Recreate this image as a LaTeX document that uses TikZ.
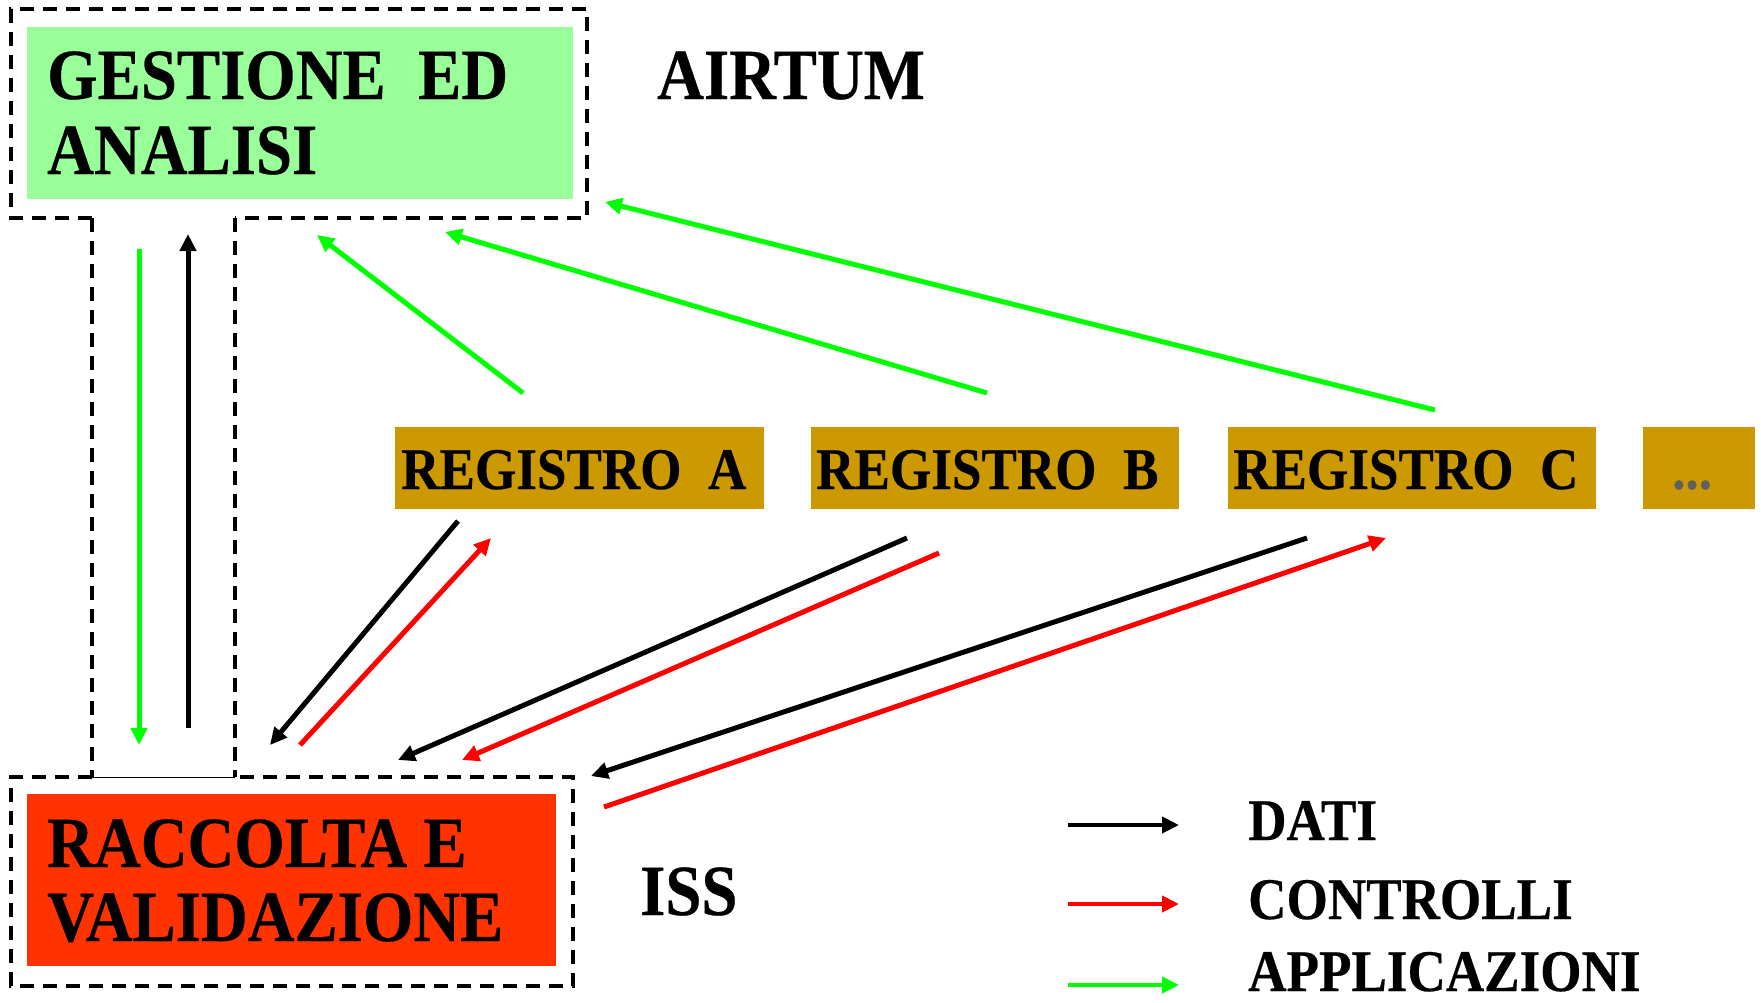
\documentclass[tikz,border=0pt]{standalone}
\usepackage{fontspec}
\setmainfont{Liberation Serif}
\newfontfamily\labfont{Liberation Serif}[FakeStretch=0.9, BoldFeatures={FakeBold=0.4}]
\usetikzlibrary{arrows.meta}
\definecolor{gestgreen}{HTML}{99FF99}
\definecolor{raccred}{HTML}{FF3300}
\definecolor{regocra}{HTML}{CC9900}
\definecolor{appgreen}{HTML}{00FF00}
\definecolor{ctrlred}{HTML}{FF0000}
\definecolor{dotgray}{HTML}{606060}

\begin{document}
\begin{tikzpicture}[x=1pt,y=-1pt,
  frame/.style={line width=4pt, dash pattern=on 14pt off 9pt},
  flow/.style={line width=5pt, -{Triangle[length=17pt,width=16pt]}},
  dati/.style={flow, black},
  ctrl/.style={flow, ctrlred},
  appl/.style={flow, appgreen},
  big/.style={font=\labfont\bfseries\fontsize{72}{72}\selectfont, inner sep=0pt, anchor=base west},
  mid/.style={font=\labfont\bfseries\fontsize{59}{59}\selectfont, inner sep=0pt, anchor=base west},
  block/.style={draw=none, inner sep=0pt, anchor=north west},
]
\useasboundingbox (0,0) rectangle (1761,1002);

% coloured blocks
\node[block, fill=gestgreen, minimum width=546pt, minimum height=172pt] (gest) at (27,27) {};
\node[block, fill=raccred, minimum width=529pt, minimum height=172pt] (racc) at (27,794) {};
\node[block, fill=regocra, minimum width=369pt, minimum height=82pt] (regA) at (395,427) {};
\node[block, fill=regocra, minimum width=368pt, minimum height=82pt] (regB) at (811,427) {};
\node[block, fill=regocra, minimum width=368pt, minimum height=82pt] (regC) at (1228,427) {};
\node[block, fill=regocra, minimum width=112pt, minimum height=82pt] (regD) at (1643,427) {};

% labels
\node[big] (gest1) at (47,99) {GESTIONE\ \ ED};
\node[big] (gest2) at (47,174) {ANALISI};
\node[big] (airtum) at (657,99) {AIRTUM};
\node[big] (racc1) at (47,867) {RACCOLTA E};
\node[big] (racc2) at (47,941) {VALIDAZIONE};
\node[big] (iss) at (640,915) {ISS};
\node[mid] (regAt) at (401,489) {REGISTRO\ \ A};
\node[mid] (regBt) at (816,489) {REGISTRO\ \ B};
\node[mid] (regCt) at (1233,489) {REGISTRO\ \ C};
\node[mid, text=dotgray] (regDt) at (1672,489) {...};

% dashed frames with the channel between them
\draw[frame] (92,218) -- (11,218) -- (11,9) -- (587,9) -- (587,218) -- (235,218);
\draw[frame] (92,218) -- (92,777);
\draw[frame] (235,218) -- (235,777);
\draw[frame] (92,777) -- (11,777) -- (11,986) -- (573,986) -- (573,777) -- (235,777);
\draw[line width=1pt] (92,777) -- (235,777);

% arrow end points
\coordinate (gd1) at (139,249);  \coordinate (gd2) at (139,745);
\coordinate (bu1) at (188,728);  \coordinate (bu2) at (188,234);
\coordinate (ga1) at (523,393);  \coordinate (ga2) at (317,235);
\coordinate (gb1) at (987,393);  \coordinate (gb2) at (445,232);
\coordinate (gc1) at (1435,410); \coordinate (gc2) at (605,202);
\coordinate (da1) at (458,521);  \coordinate (da2) at (270,745);
\coordinate (db1) at (907,538);  \coordinate (db2) at (398,760);
\coordinate (dc1) at (1307,538); \coordinate (dc2) at (591,776);
\coordinate (ca1) at (300,745);  \coordinate (ca2) at (491,538);
\coordinate (cb1) at (939,553);  \coordinate (cb2) at (462,760);
\coordinate (cc1) at (604,807);  \coordinate (cc2) at (1386,538);

% flows
\draw[appl] (gd1) -- (gd2);
\draw[dati] (bu1) -- (bu2);
\draw[appl] (ga1) -- (ga2);
\draw[appl] (gb1) -- (gb2);
\draw[appl] (gc1) -- (gc2);
\draw[dati] (da1) -- (da2);
\draw[dati] (db1) -- (db2);
\draw[dati] (dc1) -- (dc2);
\draw[ctrl] (ca1) -- (ca2);
\draw[ctrl] (cb1) -- (cb2);
\draw[ctrl] (cc1) -- (cc2);

% legend
\coordinate (l1a) at (1068,825); \coordinate (l1b) at (1179,825);
\coordinate (l2a) at (1068,904); \coordinate (l2b) at (1179,904);
\coordinate (l3a) at (1068,985); \coordinate (l3b) at (1179,985);
\draw[dati, line width=4pt] (l1a) -- (l1b);
\draw[ctrl, line width=4pt] (l2a) -- (l2b);
\draw[appl, line width=4pt] (l3a) -- (l3b);
\node[mid] (legD) at (1248,840) {DATI};
\node[mid] (legC) at (1248,919) {CONTROLLI};
\node[mid] (legA) at (1248,991) {APPLICAZIONI};
\end{tikzpicture}
\end{document}
